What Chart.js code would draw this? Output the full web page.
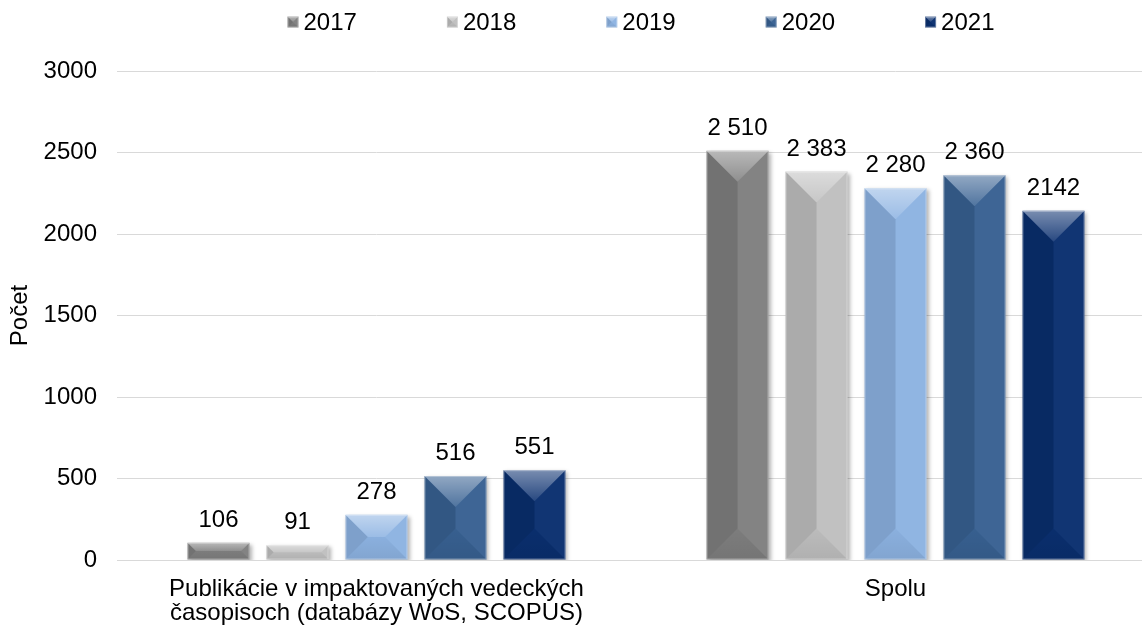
<!DOCTYPE html>
<html>
<head>
<meta charset="utf-8">
<script src="https://cdn.jsdelivr.net/npm/chart.js@4.4.0/dist/chart.umd.min.js"></script>
<style>
  html, body { margin: 0; padding: 0; background: #fff; overflow: hidden; }
  #wrap { width: 1142px; height: 628px; overflow: hidden; position: relative; }
  canvas { display: block; }
</style>
</head>
<body>
<div id="wrap"><canvas id="chart" width="1170" height="628"></canvas></div>
<script>
// data
const categories = [
  ["Publikácie v impaktovaných vedeckých", "časopisoch (databázy WoS, SCOPUS)"],
  "Spolu"
];
const years = ["2017", "2018", "2019", "2020", "2021"];
const values2017 = [106, 2510];
const values2018 = [91, 2383];
const values2019 = [278, 2280];
const values2020 = [516, 2360];
const values2021 = [551, 2142];
const labels2017 = ["106", "2 510"];
const labels2018 = ["91", "2 383"];
const labels2019 = ["278", "2 280"];
const labels2020 = ["516", "2 360"];
const labels2021 = ["551", "2142"];
const yTicks = [0, 500, 1000, 1500, 2000, 2500, 3000];
const yTitle = "Počet";

const seriesValues = [values2017, values2018, values2019, values2020, values2021];
const seriesLabels = [labels2017, labels2018, labels2019, labels2020, labels2021];
const colors = ["#7f7f7f", "#bfbfbf", "#8db3e2", "#386192", "#0a2f6f"];

const FONT = "'Liberation Sans', Arial, sans-serif";
const FS = 24;

// bevel look similar to the office "angle" bevel
function drawBevel(ctx, left, top, right, bottom) {
  const w = right - left, h = bottom - top;
  if (w <= 0 || h <= 0) return;
  const d = Math.min(w / 2, h / 2);
  const il = left + d, ir = right - d, it = top + d, ib = bottom - d;
  const poly = (pts, fill) => {
    ctx.beginPath();
    ctx.moveTo(pts[0][0], pts[0][1]);
    for (let i = 1; i < pts.length; i++) ctx.lineTo(pts[i][0], pts[i][1]);
    ctx.closePath();
    ctx.fillStyle = fill;
    ctx.fill();
  };
  poly([[left, top], [il, it], [il, ib], [left, bottom]], "rgba(0,0,0,0.10)");
  poly([[right, top], [ir, it], [ir, ib], [right, bottom]], "rgba(255,255,255,0.03)");
  const gTop = ctx.createLinearGradient(0, top, 0, it);
  gTop.addColorStop(0, "rgba(255,255,255,0.45)");
  gTop.addColorStop(1, "rgba(255,255,255,0.12)");
  poly([[left, top], [right, top], [ir, it], [il, it]], gTop);
  const gBot = ctx.createLinearGradient(0, ib, 0, bottom);
  gBot.addColorStop(0, "rgba(0,0,0,0.02)");
  gBot.addColorStop(1, "rgba(0,0,0,0.08)");
  poly([[left, bottom], [right, bottom], [ir, ib], [il, ib]], gBot);
  ctx.strokeStyle = "rgba(255,255,255,0.35)";
  ctx.lineWidth = 1;
  ctx.strokeRect(left + 0.5, top + 0.5, w - 1, h - 1);
}

const bevelPlugin = {
  id: "bevel",
  beforeDatasetsDraw(chart) {
    const ctx = chart.ctx;
    ctx.save();
    ctx.shadowColor = "rgba(0,0,0,0.30)";
    ctx.shadowBlur = 4;
    ctx.shadowOffsetX = 2;
    ctx.shadowOffsetY = 2;
  },
  afterDatasetsDraw(chart) {
    const ctx = chart.ctx;
    ctx.restore();
    ctx.save();
    chart.data.datasets.forEach((ds, i) => {
      chart.getDatasetMeta(i).data.forEach((bar, j) => {
        const p = bar.getProps(["x", "y", "base", "width"], true);
        drawBevel(ctx, p.x - p.width / 2, Math.min(p.y, p.base), p.x + p.width / 2, Math.max(p.y, p.base));
        // value label
        ctx.fillStyle = "#000";
        ctx.font = FS + "px " + FONT;
        ctx.textAlign = "center";
        ctx.textBaseline = "alphabetic";
        ctx.fillText(seriesLabels[i][j], p.x, p.y - 16);
      });
    });
    ctx.restore();
  }
};

// custom legend so the box sits close to the text like in the reference
const legendPlugin = {
  id: "customLegend",
  afterDraw(chart) {
    const ctx = chart.ctx;
    ctx.save();
    ctx.font = FS + "px " + FONT;
    const box = 11, gap = 5, spacing = 90;
    const widths = years.map(y => box + gap + ctx.measureText(y).width);
    const total = widths.reduce((a, b) => a + b, 0) + spacing * (years.length - 1);
    let x = 641 - total / 2;
    const cy = 22;
    years.forEach((y, i) => {
      ctx.fillStyle = colors[i];
      ctx.fillRect(x, cy - box / 2, box, box);
      drawBevel(ctx, x, cy - box / 2, x + box, cy + box / 2);
      ctx.fillStyle = "#000";
      ctx.textAlign = "left";
      ctx.textBaseline = "middle";
      ctx.fillText(y, x + box + gap, cy + 1);
      x += widths[i] + spacing;
    });
    ctx.restore();
  }
};

new Chart(document.getElementById("chart"), {
  type: "bar",
  data: {
    labels: categories,
    datasets: years.map((y, i) => ({
      label: y,
      data: seriesValues[i],
      backgroundColor: colors[i],
      borderWidth: 0,
      categoryPercentage: 0.761,
      barPercentage: 0.785
    }))
  },
  options: {
    responsive: false,
    animation: false,
    events: [],
    layout: { padding: { top: 71, right: 15, left: 0, bottom: 0 } },
    plugins: {
      legend: { display: false },
      tooltip: { enabled: false }
    },
    scales: {
      x: {
        grid: { display: false },
        border: { display: true, color: "#d9d9d9", width: 1 },
        ticks: {
          color: "#000",
          padding: 9,
          maxRotation: 0,
          autoSkip: false,
          font: { family: FONT, size: FS, lineHeight: 1.0 }
        },
        afterFit(scale) { scale.height = 68; }
      },
      y: {
        min: 0,
        max: 3000,
        afterBuildTicks(scale) { scale.ticks = yTicks.map(v => ({ value: v })); },
        grid: { color: "#d9d9d9", lineWidth: 1, drawTicks: false },
        border: { display: false },
        ticks: {
          color: "#000",
          padding: 20,
          font: { family: FONT, size: FS },
          callback: (v) => String(v)
        },
        title: {
          display: true,
          text: yTitle,
          color: "#000",
          padding: { top: 6, bottom: 0 },
          font: { family: FONT, size: FS, lineHeight: 1.2 }
        },
        afterFit(scale) { scale.width = 117; }
      }
    }
  },
  plugins: [bevelPlugin, legendPlugin]
});
</script>
</body>
</html>
